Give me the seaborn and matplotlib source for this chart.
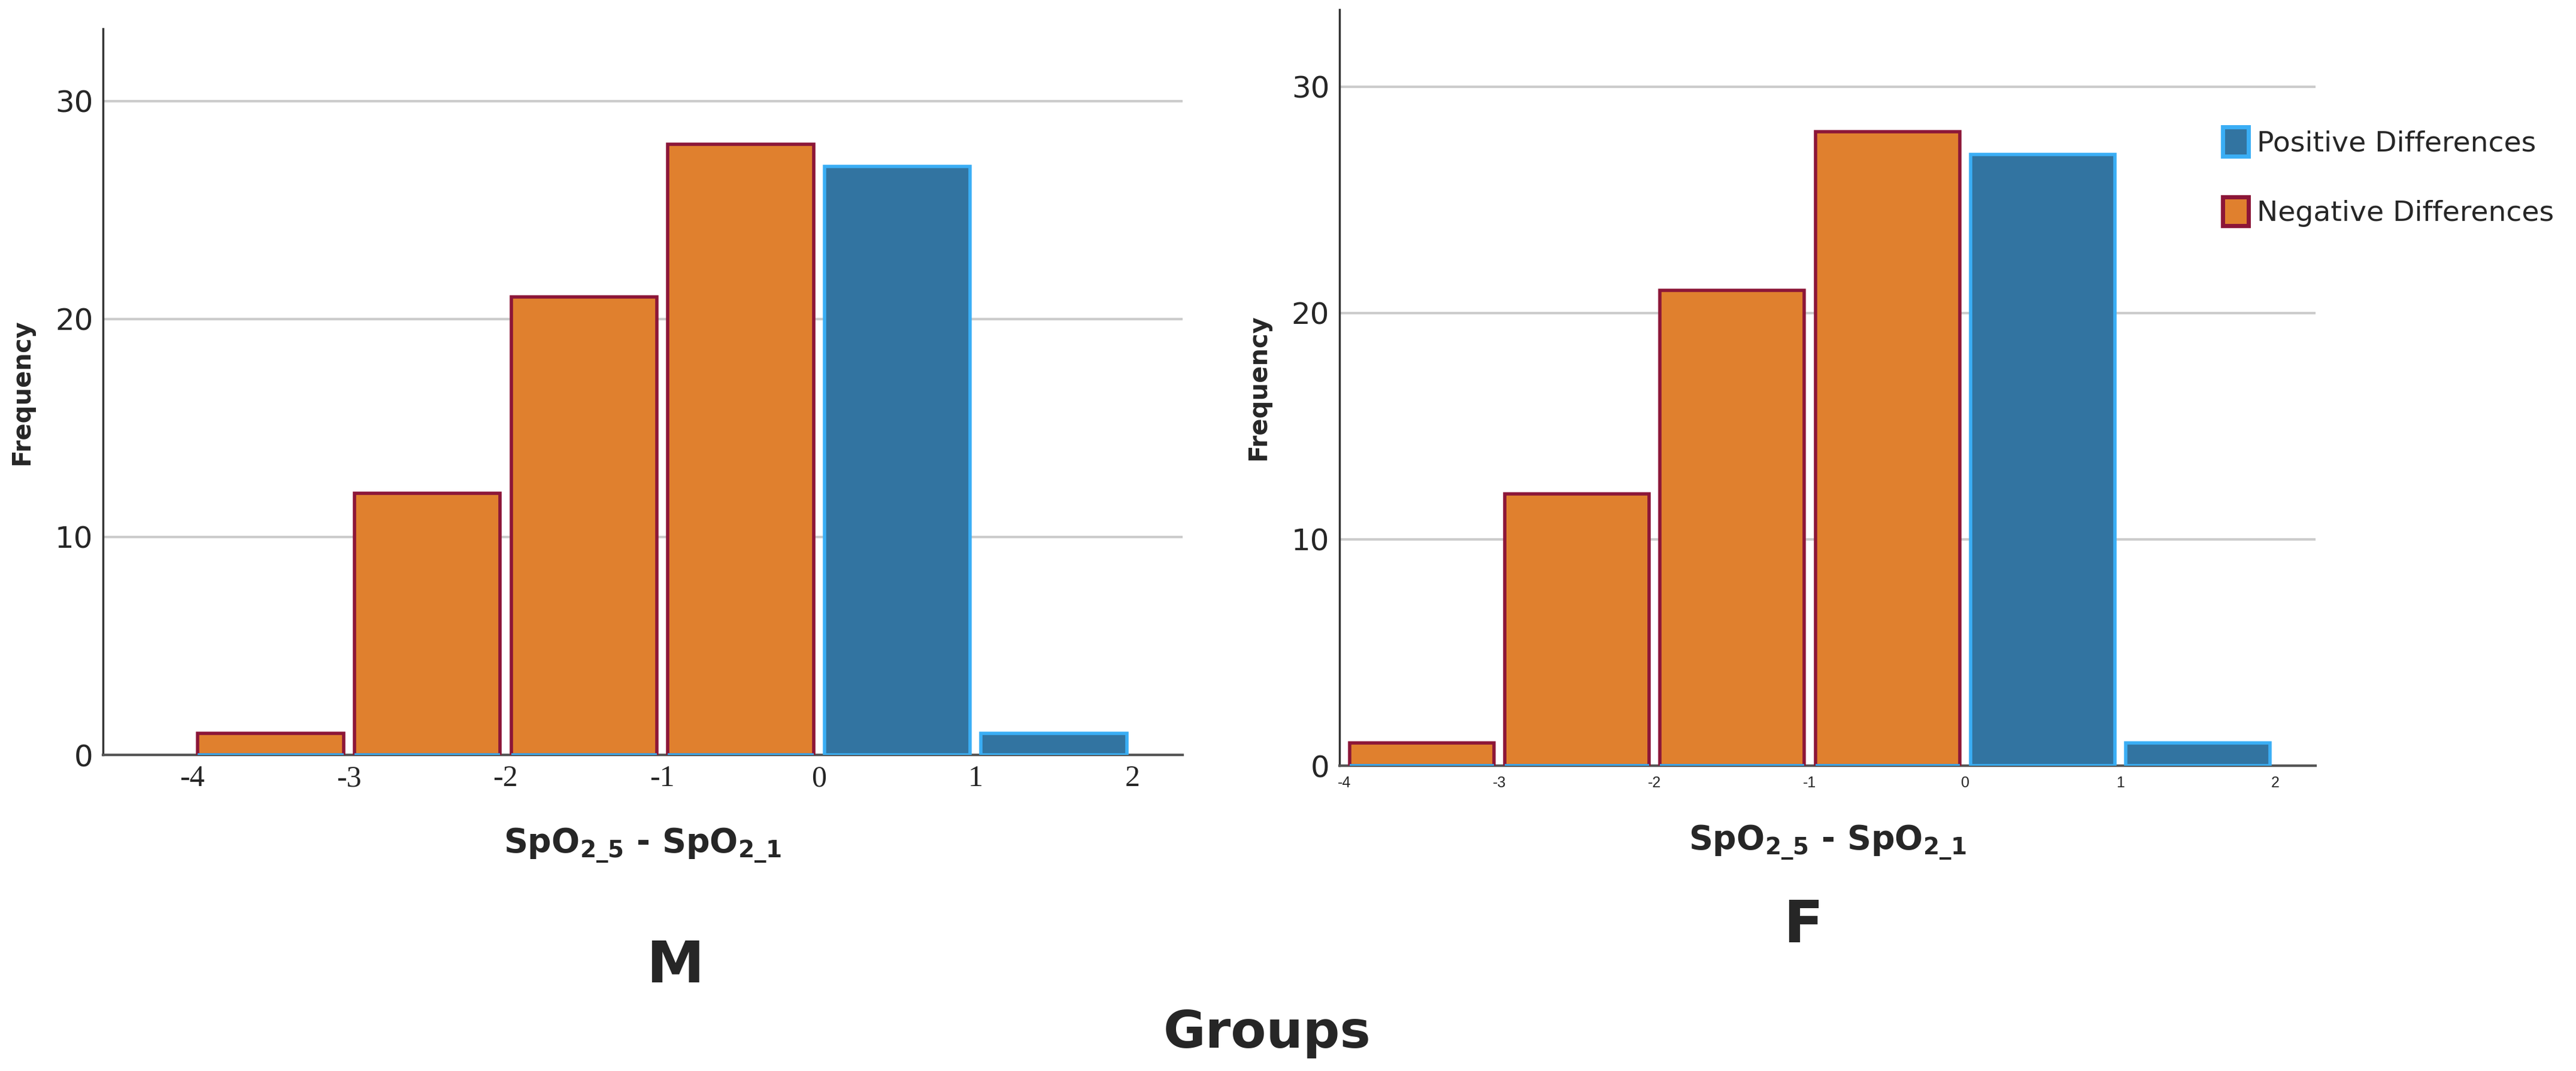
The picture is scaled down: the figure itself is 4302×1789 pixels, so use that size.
import matplotlib

matplotlib.use("Agg")

import matplotlib.pyplot as plt
import pandas as pd
import seaborn as sns
from matplotlib.patches import Patch

# histogram bins of SpO2_5 - SpO2_1
bin_edges = [-4, -3, -2, -1, 0, 1, 2]
bin_centers = [-3.5, -2.5, -1.5, -0.5, 0.5, 1.5]
freq_m = [1, 12, 21, 28, 27, 1]
freq_f = [1, 12, 21, 28, 27, 1]
groups = ["M", "F"]
y_ticks = [0, 10, 20, 30]
x_ticks = [-4, -3, -2, -1, 0, 1, 2]

NEG_FILL, NEG_EDGE = "#e0802e", "#8c1638"
POS_FILL, POS_EDGE = "#3274a1", "#3aaef5"
SERIF = "Liberation Serif"

plt.rcParams["font.family"] = SERIF
sns.set_style("white")

fig = plt.figure(figsize=(43.02, 17.89), dpi=100)
ax_m = fig.add_axes([0.040, 0.295, 0.419, 0.678])
ax_f = fig.add_axes([0.520, 0.285, 0.379, 0.706])


def draw(ax, freq, xlim, ylim, tick_size, xtick_font):
    df = pd.DataFrame({"x": bin_centers, "n": freq})
    df["sign"] = ["neg" if c < 0 else "pos" for c in bin_centers]
    for sign, fill, edge in [("neg", NEG_FILL, NEG_EDGE), ("pos", POS_FILL, POS_EDGE)]:
        sub = df[df["sign"] == sign]
        sns.histplot(data=sub, x="x", weights="n", bins=bin_edges, shrink=0.93,
                     color=fill, edgecolor=edge, linewidth=4, alpha=1, ax=ax, zorder=3)
    ax.set_xlim(*xlim)
    ax.set_ylim(*ylim)
    ax.set_yticks(y_ticks)
    ax.set_xticks(x_ticks)
    ax.set_xticklabels([str(t) for t in x_ticks], fontsize=tick_size[0], family=xtick_font)
    ax.set_yticklabels([str(t) for t in y_ticks], fontsize=tick_size[1])
    ax.yaxis.grid(True, color="#cccccc", linewidth=3, zorder=0)
    ax.set_axisbelow(True)
    for s in ["top", "right"]:
        ax.spines[s].set_visible(False)
    ax.spines["left"].set_color("#333333")
    ax.spines["bottom"].set_color("#555555")
    ax.spines["left"].set_linewidth(2.5)
    ax.spines["bottom"].set_linewidth(3)
    ax.tick_params(axis="both", length=0, pad=12)
    ax.set_ylabel("Frequency", fontsize=30, fontweight="bold", labelpad=25)
    ax.set_xlabel(r"$\mathbf{SpO_{2\_5}}$ - $\mathbf{SpO_{2\_1}}$", fontsize=40,
                  fontweight="bold", labelpad=40)


draw(ax_m, freq_m, (-4.57, 2.32), (0, 33.3), (36, 36), SERIF)
draw(ax_f, freq_f, (-4.03, 2.26), (0, 33.4), (18, 36), "Liberation Sans")

fig.text(0.262, 0.083, groups[0], ha="center", fontsize=70, fontweight="bold")
fig.text(0.700, 0.120, groups[1], ha="center", fontsize=70, fontweight="bold")
fig.text(0.492, 0.022, "Groups", ha="center", fontsize=62, fontweight="bold")

handles = [Patch(facecolor=POS_FILL, edgecolor=POS_EDGE, linewidth=5, label="Positive Differences"),
           Patch(facecolor=NEG_FILL, edgecolor=NEG_EDGE, linewidth=5, label="Negative Differences")]
fig.legend(handles=handles, loc="upper left", bbox_to_anchor=(0.853, 0.905), frameon=False,
           fontsize=34, handlelength=0.9, handleheight=1.2, labelspacing=1.4, handletextpad=0.3)

fig.savefig("out.png", dpi=100)
